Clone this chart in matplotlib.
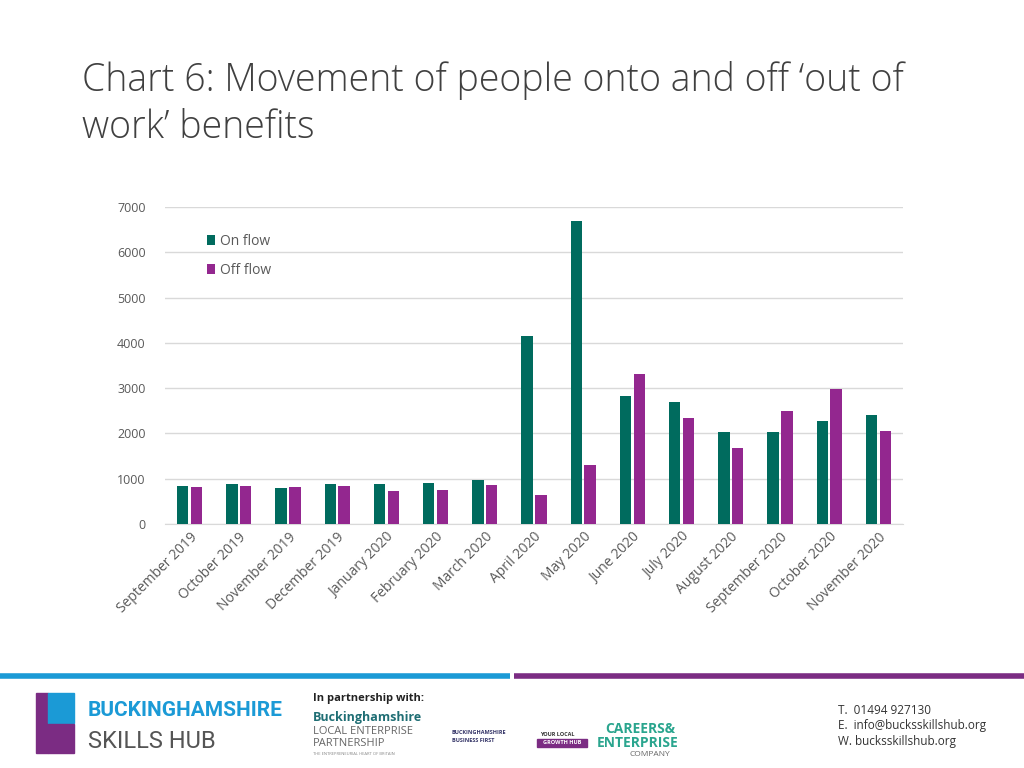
import matplotlib
matplotlib.use("Agg")
import matplotlib.pyplot as plt
import numpy as np

months = ["September 2019", "October 2019", "November 2019", "December 2019",
          "January 2020", "February 2020", "March 2020", "April 2020", "May 2020",
          "June 2020", "July 2020", "August 2020", "September 2020",
          "October 2020", "November 2020"]
on_flow = [838, 882, 794, 890, 875, 897, 971, 4147, 6691, 2816, 2684, 2022, 2029, 2272, 2397]
off_flow = [816, 846, 809, 838, 728, 750, 853, 647, 1294, 3316, 2338, 1669, 2493, 2985, 2051]
y_ticks = [0, 1000, 2000, 3000, 4000, 5000, 6000, 7000]

teal = "#006B5E"
purple = "#93278F"

plt.rcParams['font.family'] = ['Open Sans', 'DejaVu Sans']

fig = plt.figure(figsize=(10.24, 7.68), dpi=100)
W, H = 1024, 768

# Title
fig.text(82/W, 1 - 80/H, "Chart 6: Movement of people onto and off \u2018out of",
         fontsize=27, color="#404040", va="center", ha="left", fontweight="light")
fig.text(82/W, 1 - 128/H, "work\u2019 benefits",
         fontsize=27, color="#404040", va="center", ha="left", fontweight="light")

ax = fig.add_axes([165/W, 1 - 524/H, (903-165)/W, (524-207)/H])
x = np.arange(len(months))
w = 0.23
ax.bar(x - 0.14, on_flow, width=w, color=teal, label="On flow", zorder=3)
ax.bar(x + 0.14, off_flow, width=w, color=purple, label="Off flow", zorder=3)
ax.set_xlim(-0.5, len(months) - 0.5)
ax.set_ylim(0, 7000)
ax.set_yticks(y_ticks)
ax.set_yticklabels([str(v) for v in y_ticks], fontsize=9, color="#595959")
ax.yaxis.grid(True, color="#D9D9D9", linewidth=1, zorder=0)
ax.tick_params(axis='y', length=0, pad=14)
ax.tick_params(axis='x', length=0, pad=4)
ax.set_xticks(x)
ax.set_xticklabels(months, rotation=45, ha="right", rotation_mode="anchor",
                   fontsize=10, color="#595959")
for s in ["top", "right", "left"]:
    ax.spines[s].set_visible(False)
ax.spines["bottom"].set_color("#D9D9D9")
leg = ax.legend(loc="upper left", bbox_to_anchor=(0.04, 0.955), frameon=False,
                fontsize=10, handlelength=0.6, handleheight=0.7, handletextpad=0.35,
                labelspacing=1.0, labelcolor="#595959")

# Footer
fl = fig.add_axes([0, 0, 1, 1], zorder=-1)
fl.set_xlim(0, W); fl.set_ylim(H, 0); fl.axis("off")
fl.plot([0, 510], [676, 676], color="#1B9AD6", linewidth=4, solid_capstyle="butt")
fl.plot([514, 1024], [676, 676], color="#7B2C83", linewidth=4, solid_capstyle="butt")
fl.add_patch(plt.Rectangle((36, 693), 12, 60, color="#7B2C83"))
fl.add_patch(plt.Rectangle((48, 693), 26, 30, color="#1B9AD6"))
fl.add_patch(plt.Rectangle((48, 724), 26, 29, color="#7B2C83"))
fl.text(88, 710, "BUCKINGHAMSHIRE", fontsize=15, color="#1B9AD6", fontweight="bold",
        va="center", family=["Roboto", "DejaVu Sans"])
fl.text(88, 741, "SKILLS HUB", fontsize=17, color="#555555", va="center",
        family=["Roboto", "DejaVu Sans"])
fl.text(313, 699, "In partnership with:", fontsize=8, color="#222222", va="center", fontweight="bold")
fl.text(313, 718, "Buckinghamshire", fontsize=9, color="#1F6E74", va="center", fontweight="bold")
fl.text(313, 731, "LOCAL ENTERPRISE", fontsize=8, color="#666666", va="center")
fl.text(313, 743, "PARTNERSHIP", fontsize=8, color="#666666", va="center")
fl.text(313, 754, "THE ENTREPRENEURIAL HEART OF BRITAIN", fontsize=3, color="#888888", va="center")
fl.text(452, 733, "BUCKINGHAMSHIRE", fontsize=4, color="#333366", va="center", fontweight="bold")
fl.text(452, 741, "BUSINESS FIRST", fontsize=4, color="#333366", va="center", fontweight="bold")
fl.text(540, 734, "YOUR LOCAL", fontsize=4, color="#333333", va="center", fontweight="bold")
fl.add_patch(plt.Rectangle((537, 739), 50, 8, color="#7B2C83"))
fl.text(562, 743, "GROWTH HUB", fontsize=4, color="white", va="center", ha="center", fontweight="bold")
fl.text(605, 729, "CAREERS&", fontsize=10, color="#2AA58E", va="center", fontweight="bold")
fl.text(597, 743, "ENTERPRISE", fontsize=10, color="#2AA58E", va="center", fontweight="bold")
fl.text(630, 754, "COMPANY", fontsize=6, color="#666666", va="center")
fl.text(838, 710, "T.  01494 927130", fontsize=8.5, color="#333333", va="center")
fl.text(838, 726, "E.  info@bucksskillshub.org", fontsize=8.5, color="#333333", va="center")
fl.text(838, 742, "W. bucksskillshub.org", fontsize=8.5, color="#333333", va="center")

fig.savefig("out.png", dpi=100)
